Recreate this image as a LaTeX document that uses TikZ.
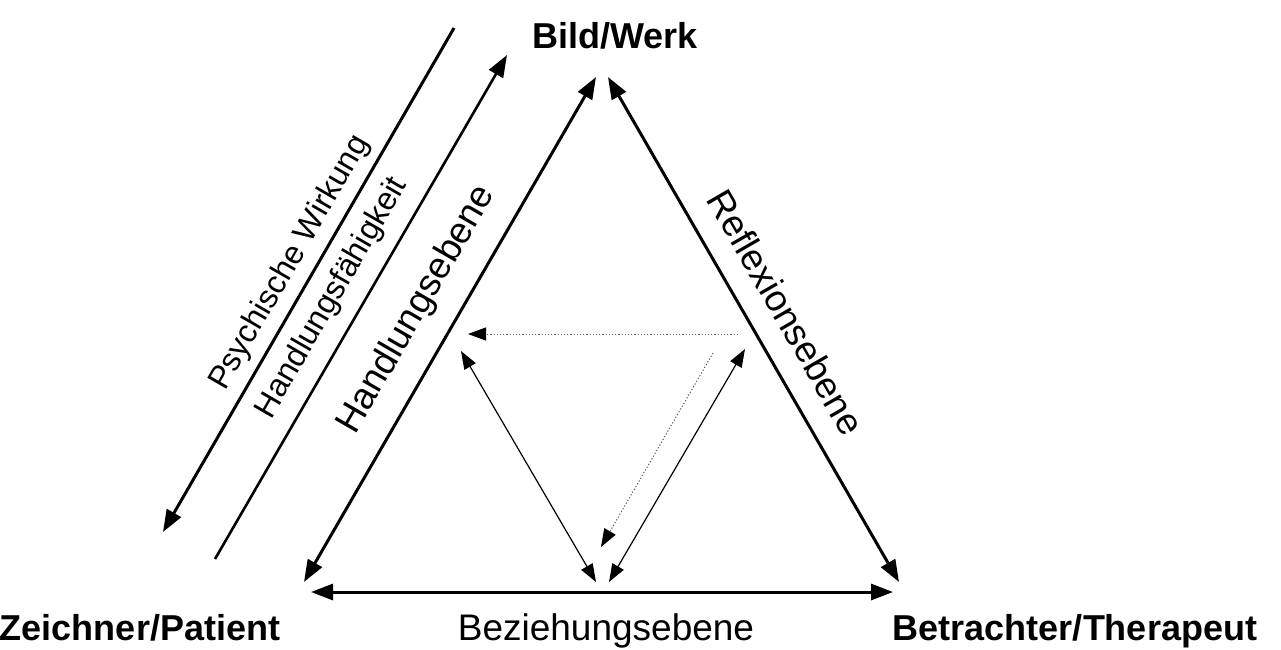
\documentclass[tikz,border=0pt]{standalone}
\usepackage{fontspec}
\setmainfont{Liberation Sans}
\usetikzlibrary{arrows.meta}

\begin{document}
\begin{tikzpicture}[x=0.5pt,y=-0.5pt,
  ecke/.style={font=\fontsize{18}{20}\selectfont\bfseries,anchor=base},
  ebene/.style={font=\fontsize{18.5}{20}\selectfont},
  wirkung/.style={font=\fontsize{16}{18}\selectfont},
  dick/.style={line width=1.5pt,{Triangle[length=11pt,width=8pt]}-{Triangle[length=11pt,width=8pt]}},
  duenn/.style={line width=0.6pt,{Triangle[length=9pt,width=6.5pt]}-{Triangle[length=9pt,width=6.5pt]}},
  punkt/.style={line width=0.5pt,gray!70!black,dash pattern=on 0.6pt off 1pt,-{Triangle[length=9pt,width=6.5pt,color=black]}}]
\useasboundingbox (0,0) rectangle (1281,649);
% Ecken
\node[ecke] (bild) at (615,48) {Bild/Werk};
\node[ecke] (zeichner) at (140,640) {Zeichner/Patient};
\node[ecke] (betrachter) at (1075,640) {Betrachter/Therapeut};
% Pfeilenden
\coordinate (lu) at (304,582);
\coordinate (lo) at (596,77);
\coordinate (ro) at (608,77);
\coordinate (ru) at (899,582);
\coordinate (ul) at (311,592);
\coordinate (ur) at (893,592);
\coordinate (pw1) at (454,28);
\coordinate (pw2) at (163,532);
\coordinate (hf1) at (215,559);
\coordinate (hf2) at (507,55);
% inneres Dreieck
\coordinate (il) at (461,351);
\coordinate (iu1) at (596,582);
\coordinate (ir) at (745,349);
\coordinate (iu2) at (609,582);
\coordinate (ph1) at (738,334);
\coordinate (ph2) at (468,334);
\coordinate (pd1) at (713,353);
\coordinate (pd2) at (601,547);

\draw[dick] (lu) -- (lo);
\draw[dick] (ro) -- (ru);
\draw[dick] (ul) -- (ur);
\draw[dick,{}-{Triangle[length=11pt,width=8pt]}] (pw1) -- (pw2);
\draw[dick,line width=1.3pt,{}-{Triangle[length=11pt,width=8pt]}] (hf1) -- (hf2);
\draw[duenn] (il) -- (iu1);
\draw[duenn] (ir) -- (iu2);
\draw[punkt] (ph1) -- (ph2);
\draw[punkt] (pd1) -- (pd2);

% Beschriftungen
\node[ebene,anchor=base] (beziehung) at (606,640) {Beziehungsebene};
\node[ebene,rotate=60] (handlung) at (417,310) {Handlungsebene};
\node[ebene,rotate=-60] (reflexion) at (786,312) {Reflexionsebene};
\node[wirkung,rotate=60] (psych) at (290,263) {Psychische Wirkung};
\node[wirkung,rotate=60] (faehig) at (332,298) {Handlungsfähigkeit};
\end{tikzpicture}
\end{document}
